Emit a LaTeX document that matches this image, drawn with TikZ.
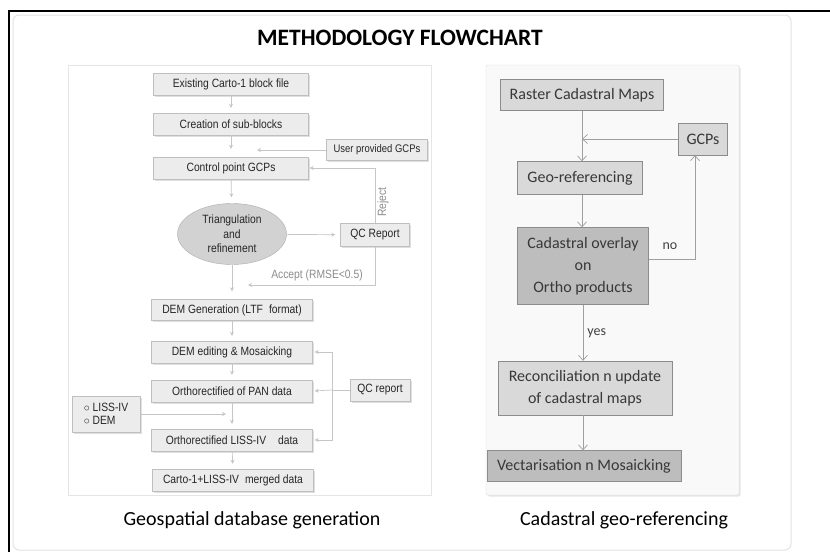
\documentclass[tikz,border=0pt]{standalone}
\usepackage{fontspec}
\setmainfont{Carlito}
\newfontfamily\boxfont[FakeStretch=0.86]{Liberation Sans}
\usepackage{xcolor}
\usetikzlibrary{arrows.meta, positioning, shapes.geometric, shadows}

\begin{document}
\begin{tikzpicture}[x=1pt, y=-1pt,
    lbox/.style={draw=gray!50, fill=gray!15, minimum width=155pt, minimum height=22pt,
        inner sep=1pt, text=black!85, font=\boxfont\fontsize{12}{14.5}\selectfont,
        drop shadow={opacity=0.25, shadow xshift=1.5pt, shadow yshift=-1.5pt}},
    rbox/.style={draw=gray!90, fill=gray!30, inner sep=1pt, text=black!78,
        font=\fontsize{16}{22}\selectfont},
    dark/.style={fill=gray!52},
    larrow/.style={draw=gray!45, line width=0.7pt, shorten >=5pt,
        -{Stealth[length=4pt, width=4pt]}},
    lline/.style={draw=gray!45, line width=0.7pt},
    rarrow/.style={draw=gray!75, line width=0.8pt,
        -{Straight Barb[length=5pt, width=9pt, line width=0.7pt]}},
    llbl/.style={text=gray!90, font=\boxfont\fontsize{12}{14}\selectfont, inner sep=1pt},
    rlbl/.style={text=black!75, font=\fontsize{14}{16}\selectfont, inner sep=1pt}]

    \useasboundingbox (0,0) rectangle (830,552);
    \fill[white] (0,0) rectangle (830,552);

    % frame
    \draw[line width=1.6pt] (9,552) -- (9,11) -- (830,11);
    \draw[gray!22, line width=1pt, rounded corners=6pt] (13,15) rectangle (791,550);
    \node[font=\bfseries\fontsize{23.5}{28}\selectfont] (title) at (400,38) {METHODOLOGY FLOWCHART};

    % geospatial database generation
    \draw[gray!20, line width=0.8pt] (68,65) rectangle (431,495);
    \node[lbox] (exist) at (231,84) {Existing Carto-1 block file};
    \node[lbox] (subblk) at (231,124) {Creation of sub-blocks};
    \node[lbox, minimum width=101pt, minimum height=21pt,
        font=\boxfont\fontsize{11}{13}\selectfont] (user) at (377,150) {User provided GCPs};
    \node[lbox] (ctrl) at (231,168) {Control point GCPs};
    \node[ellipse, draw=gray!65, fill=gray!35, minimum width=109pt, minimum height=61pt,
        align=center, inner sep=0pt, text=black!85,
        font=\boxfont\fontsize{12}{14.5}\selectfont] (tri) at (232,234) {Triangulation\\and\\refinement};
    \node[lbox, minimum width=69pt, minimum height=23pt] (qcrep) at (375,235) {QC Report};
    \node[lbox, minimum width=161pt, minimum height=21pt] (demgen) at (232,310) {DEM Generation (LTF\enspace format)};
    \node[lbox, minimum width=161pt] (demedit) at (232,352) {DEM editing \& Mosaicking};
    \node[lbox, minimum width=161pt] (pan) at (232,391) {Orthorectified of PAN data};
    \node[lbox, minimum width=161pt] (liss) at (232,440) {Orthorectified LISS-IV\quad data};
    \node[lbox, minimum width=161pt] (merged) at (233,480) {Carto-1+LISS-IV\enspace merged data};
    \node[lbox, minimum width=60pt] (qcrep2) at (380,390) {QC report};
    \node[lbox, minimum width=68pt, minimum height=36pt, align=left] (input) at (106,414)
        {$\circ$ LISS-IV\\[-2pt]$\circ$ DEM};

    \coordinate (userend) at (257,150);
    \coordinate (accend) at (248,285);
    \coordinate (inend) at (226,414);
    \coordinate (qcjoin) at (332,390);

    \draw[larrow] (exist) -- (subblk);
    \draw[larrow, shorten >=8pt] (subblk) -- (ctrl);
    \draw[larrow, shorten >=0pt] (user) -- (userend);
    \draw[larrow, shorten >=6pt] (ctrl) -- (tri);
    \draw[larrow] (tri) -- (qcrep);
    \draw[larrow, shorten >=1pt] (qcrep.north) |- (ctrl.east);
    \draw[larrow, shorten >=0pt] (qcrep.south) |- (accend);
    \draw[larrow, shorten >=8pt] (tri) -- (demgen);
    \draw[larrow] (demgen) -- (demedit);
    \draw[larrow] (demedit) -- (pan);
    \draw[larrow] (pan) -- (liss);
    \draw[larrow] (liss) -- (merged);
    \draw[larrow, shorten >=0pt] (input) -- (inend);
    \draw[lline] (qcrep2) -- (qcjoin);
    \draw[larrow, shorten >=2pt] (qcjoin) |- (demedit.east);
    \draw[larrow, shorten >=2pt] (qcjoin) -- (pan.east);
    \draw[larrow, shorten >=2pt] (qcjoin) |- (liss.east);

    \node[llbl, rotate=90] (reject) at (383,202) {Reject};
    \node[llbl] (accept) at (317,275) {Accept (RMSE<0.5)};

    \node[font=\fontsize{20}{24}\selectfont] (cap1) at (252,520) {Geospatial database generation};

    % cadastral geo-referencing
    \draw[gray!25, fill=gray!5, rounded corners=2pt,
        drop shadow={opacity=0.2, shadow xshift=1.5pt, shadow yshift=-1.5pt}] (486,65) rectangle (739,495);
    \node[rbox, minimum width=163pt, minimum height=31pt] (raster) at (582,95) {Raster Cadastral Maps};
    \node[rbox, minimum width=49pt, minimum height=32pt] (gcp) at (703,139) {GCPs};
    \node[rbox, minimum width=125pt, minimum height=33pt] (georef) at (580,178) {Geo-referencing};
    \node[rbox, dark, minimum width=131pt, minimum height=77pt, align=center] (overlay) at (583,266)
        {Cadastral overlay\\on\\Ortho products};
    \node[rbox, minimum width=174pt, minimum height=54pt, align=center] (recon) at (585,388)
        {Reconciliation n update\\of cadastral maps};
    \node[rbox, dark, minimum width=194pt, minimum height=31pt] (vect) at (584,466) {Vectarisation n Mosaicking};

    \draw[rarrow] (raster.south) -- (raster.south |- georef.north);
    \draw[rarrow] (gcp.west) -- (gcp.west -| raster.south);
    \draw[rarrow] (georef.south -| raster.south) -- (raster.south |- overlay.north);
    \draw[rarrow] ([yshift=7pt]overlay.east) -| ([xshift=-8pt]gcp.south);
    \draw[rarrow] (overlay.south) -- node[rlbl, right=3pt] (yes) {yes} (overlay.south |- recon.north);
    \draw[rarrow] (recon.south -| overlay.south) -- (overlay.south |- vect.north);
    \node[rlbl] (no) at (670,246) {no};

    \node[font=\fontsize{20}{24}\selectfont] (cap2) at (624,520) {Cadastral geo-referencing};
\end{tikzpicture}
\end{document}
